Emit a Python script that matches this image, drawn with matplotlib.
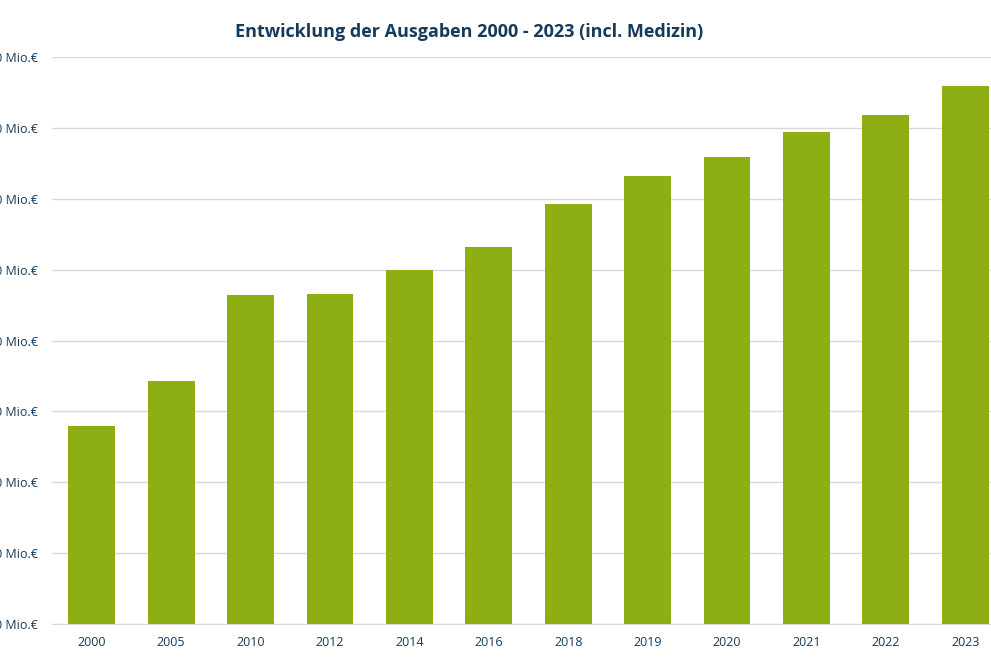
import matplotlib
matplotlib.use("Agg")
import matplotlib.pyplot as plt
import numpy as np

years = ["2000", "2005", "2010", "2012", "2014", "2016", "2018", "2019", "2020", "2021", "2022", "2023"]
spending = [27.9, 34.3, 46.4, 46.5, 50.0, 53.2, 59.2, 63.2, 65.9, 69.4, 71.8, 75.9]
y_ticks = [0, 10, 20, 30, 40, 50, 60, 70, 80]
y_tick_labels = [f"{v} Mio.€" for v in y_ticks]

BAR_COLOR = "#8DAF14"
TEXT_COLOR = "#163B5A"
GRID_COLOR = "#D9D9D9"

plt.rcParams["font.family"] = ["Open Sans", "DejaVu Sans"]

W, H = 991, 660
fig = plt.figure(figsize=(W / 100, H / 100), dpi=100)
# the reference is cropped: y labels run off the left edge, last slot off the right
ax = fig.add_axes([52 / W, (H - 624) / H, 953 / W, (624 - 57) / H])

x = np.arange(len(years))
ax.bar(x, spending, width=0.59, color=BAR_COLOR, zorder=3)

ax.set_xlim(-0.5, len(years) - 0.5)
ax.set_ylim(0, 80)
ax.set_yticks(y_ticks)
ax.set_yticklabels(y_tick_labels)
ax.set_xticks(x)
ax.set_xticklabels(years)
ax.tick_params(axis="both", length=0, colors=TEXT_COLOR, labelsize=9)
ax.tick_params(axis="y", pad=10)
ax.tick_params(axis="x", pad=9)
ax.grid(axis="y", color=GRID_COLOR, linewidth=1, zorder=0)
for side in ("top", "right", "left"):
    ax.spines[side].set_visible(False)
ax.spines["bottom"].set_color(GRID_COLOR)

fig.text(469 / W, 1 - 32 / H, "Entwicklung der Ausgaben 2000 - 2023 (incl. Medizin)",
         ha="center", va="center", fontsize=13, fontweight="bold", color=TEXT_COLOR)

fig.savefig("out.png", dpi=100)
